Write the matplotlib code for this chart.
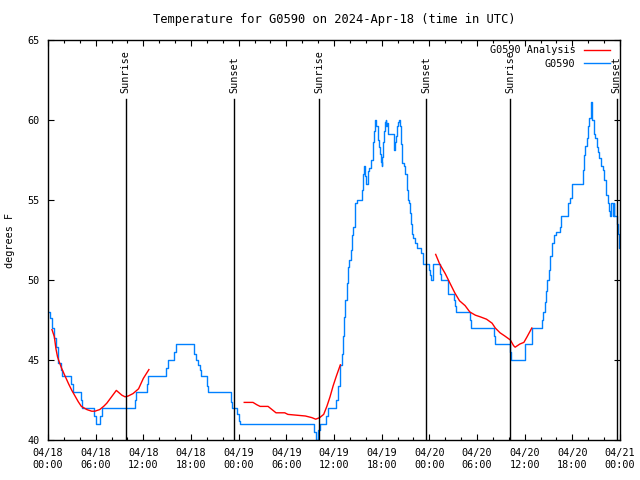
import matplotlib
matplotlib.use('Agg')
import matplotlib.pyplot as plt
import numpy as np

plt.rcParams['font.family'] = ['DejaVu Sans Mono']
plt.rcParams['font.size'] = 7.3

# hours since 04/18 00:00 UTC, temperature in F (observations, change points)
obs_hours = [0.0, 0.3, 0.5, 0.8, 1.0, 1.2, 1.3, 1.6, 1.8, 2.9, 3.1, 4.1, 4.3, 5.8, 6.0,
             6.6, 6.8, 10.9, 11.1, 12.4, 12.6, 14.9, 15.1, 15.9, 16.1, 18.4, 18.6, 18.9,
             19.1, 19.3, 20.0, 20.1, 23.0, 23.2, 23.8, 24.0, 24.2, 33.5, 33.7, 34.0, 34.2,
             35.0, 35.2, 36.2, 36.5, 36.8, 37.0, 37.1, 37.3, 37.4, 37.6, 37.8, 37.9, 38.1,
             38.3, 38.4, 38.6, 38.7, 38.9, 39.5, 39.7, 39.8, 39.9, 40.0, 40.3, 40.4, 40.7,
             40.9, 41.0, 41.1, 41.2, 41.3, 41.5, 41.7, 41.8, 41.9, 42.0, 42.1, 42.2, 42.3,
             42.4, 42.5, 42.6, 42.7, 42.8, 43.5, 43.6, 43.7, 43.8, 43.9, 44.0, 44.2, 44.3,
             44.4, 44.5, 44.6, 44.8, 45.0, 45.2, 45.3, 45.4, 45.6, 45.7, 45.8, 46.0, 46.2,
             46.4, 47.0, 47.2, 47.9, 48.1, 48.2, 48.4, 48.5, 49.4, 49.5, 50.3, 50.4, 51.1,
             51.2, 51.4, 53.1, 53.2, 56.2, 56.3, 58.2, 58.3, 60.0, 60.1, 60.9, 62.2, 62.3,
             62.5, 62.7, 62.8, 63.0, 63.2, 63.4, 63.5, 63.7, 63.9, 64.5, 64.6, 65.5, 65.7,
             65.9, 66.0, 67.3, 67.5, 67.6, 67.8, 68.0, 68.1, 68.3, 68.4, 68.5, 68.7, 68.9,
             69.1, 69.2, 69.4, 69.6, 69.8, 70.0, 70.2, 70.3, 70.5, 70.6, 70.7, 70.9, 71.1,
             71.2, 71.3, 71.6, 71.8, 71.9, 72.0]
obs_temp = [48.0, 47.6, 47.0, 46.4, 45.8, 45.2, 44.8, 44.4, 44.0, 43.5, 43.0, 42.5, 42.0, 41.5, 41.0,
            41.5, 42.0, 42.5, 43.0, 43.5, 44.0, 44.5, 45.0, 45.5, 46.0, 45.4, 45.0, 44.7,
            44.4, 44.0, 43.4, 43.0, 42.4, 42.0, 41.6, 41.2, 41.0, 40.5, 40.0, 40.6, 41.0,
            41.5, 42.0, 42.5, 43.4, 44.7, 45.4, 46.5, 47.7, 48.75, 49.8, 50.8, 51.25, 51.9,
            52.8, 53.3, 54.2, 54.8, 55.0, 55.6, 56.6, 57.1, 56.5, 56.0, 56.8, 57.0, 57.5,
            58.6, 59.3, 59.8, 60.0, 59.6, 58.75, 58.3, 57.9, 57.4, 57.1, 57.7, 58.6, 59.3,
            59.9, 60.0, 59.6, 59.8, 59.1, 58.75, 58.1, 58.6, 59.0, 59.6, 59.9, 60.0, 59.6,
            58.5, 57.9, 57.3, 57.1, 56.6, 55.6, 55.0, 54.8, 54.2, 53.5, 52.9, 52.6, 52.3,
            52.0, 51.7, 51.0, 50.6, 50.3, 50.0, 50.7, 51.0, 50.4, 50.0, 49.8, 49.1, 48.75,
            48.4, 48.0, 47.5, 47.0, 46.5, 46.0, 45.5, 45.0, 45.5, 46.0, 47.0, 47.5, 48.0,
            48.6, 49.3, 50.0, 50.6, 51.5, 51.9, 52.3, 52.8, 53.0, 53.3, 54.0, 54.8, 55.1,
            55.4, 56.0, 56.9, 57.8, 58.4, 58.85, 59.6, 60.1, 60.6, 61.1, 60.0, 59.1, 58.85,
            58.3, 58.0, 57.6, 57.1, 56.9, 56.25, 55.8, 55.3, 54.8, 54.3, 54.0, 54.8, 54.0,
            54.8, 54.0, 53.5, 52.9, 52.0, 52.0]

# analysis segments
ana1_hours = [0.5, 0.8, 1.0, 1.2, 1.4, 1.7, 2.1, 2.6, 3.0, 3.4, 3.8, 4.2, 4.9, 5.5, 5.9,
              6.5, 7.0, 7.4, 8.0, 8.6, 9.3, 9.7, 10.1, 10.7, 11.4, 12.0, 12.7]
ana1_temp = [46.9, 46.45, 45.7, 45.2, 44.9, 44.5, 44.05, 43.5, 43.1, 42.75, 42.4, 42.1, 41.9, 41.8, 41.8,
             41.9, 42.1, 42.3, 42.7, 43.1, 42.8, 42.7, 42.75, 42.9, 43.2, 43.85, 44.4]
ana2_hours = [24.7, 25.8, 26.3, 26.7, 27.7, 28.2, 28.7, 29.8, 30.2, 31.3, 32.4, 33.2, 33.7,
              34.2, 34.7, 35.1, 35.5, 35.9, 36.3, 36.8]
ana2_temp = [42.35, 42.35, 42.2, 42.1, 42.1, 41.9, 41.7, 41.7, 41.6, 41.55, 41.5, 41.4, 41.3,
             41.4, 41.6, 42.1, 42.7, 43.4, 44.0, 44.7]
ana3_hours = [48.8, 49.3, 50.0, 50.6, 51.2, 51.8, 52.5, 53.1, 53.8, 54.4, 55.2, 55.9, 56.3,
              56.9, 57.5, 58.2, 58.6, 58.8, 59.4, 59.9, 60.3, 60.9]
ana3_temp = [51.6, 51.0, 50.4, 49.8, 49.2, 48.7, 48.4, 48.0, 47.8, 47.7, 47.55, 47.3, 47.0,
             46.7, 46.5, 46.25, 45.9, 45.8, 46.0, 46.1, 46.45, 47.0]

sun_hours = [9.8, 23.4, 34.1, 47.6, 58.2, 71.6]
sun_labels = ['Sunrise', 'Sunset', 'Sunrise', 'Sunset', 'Sunrise', 'Sunset']

tick_hours = list(range(0, 73, 6))
tick_labels = ['04/18\n00:00', '04/18\n06:00', '04/18\n12:00', '04/18\n18:00',
               '04/19\n00:00', '04/19\n06:00', '04/19\n12:00', '04/19\n18:00',
               '04/20\n00:00', '04/20\n06:00', '04/20\n12:00', '04/20\n18:00',
               '04/21\n00:00']

fig = plt.figure(figsize=(6.4, 4.8), dpi=100)
ax = fig.add_axes([48/640, 40/480, 572/640, 400/480])

blue, = ax.plot(obs_hours, obs_temp, drawstyle='steps-post', color='#0080ff', lw=1.0, label='G0590')
red, = ax.plot(ana1_hours, ana1_temp, color='#ff0000', lw=1.0, label='G0590 Analysis')
ax.plot(ana2_hours, ana2_temp, color='#ff0000', lw=1.0)
ax.plot(ana3_hours, ana3_temp, color='#ff0000', lw=1.0)

line_top = 61.3
for h, lab in zip(sun_hours, sun_labels):
    ax.plot([h, h], [40, line_top], color='black', lw=1.0)
    ax.text(h, line_top + 0.4, lab, rotation=90, ha='center', va='bottom')

ax.set_xlim(0, 72)
ax.set_ylim(40, 65)
ax.set_xticks(tick_hours)
ax.set_xticklabels(tick_labels)
ax.set_xticks(range(0, 73, 2), minor=True)
ax.set_yticks(range(40, 66, 5))
ax.tick_params(direction='in', top=True, right=True, length=4, width=0.8, pad=6)
ax.tick_params(which='minor', direction='in', top=True, length=2, width=0.8)
for s in ax.spines.values():
    s.set_linewidth(1.0)

ax.set_ylabel('degrees F', labelpad=9)
ax.set_title('Temperature for G0590 on 2024-Apr-18 (time in UTC)', pad=12)
ax.legend(handles=[red, blue], loc='upper right', frameon=False, markerfirst=False,
          bbox_to_anchor=(0.9825, 0.987), borderpad=0, borderaxespad=0,
          handlelength=2.6, labelspacing=0.35, handletextpad=0.8)

fig.savefig('out.png', dpi=100)
